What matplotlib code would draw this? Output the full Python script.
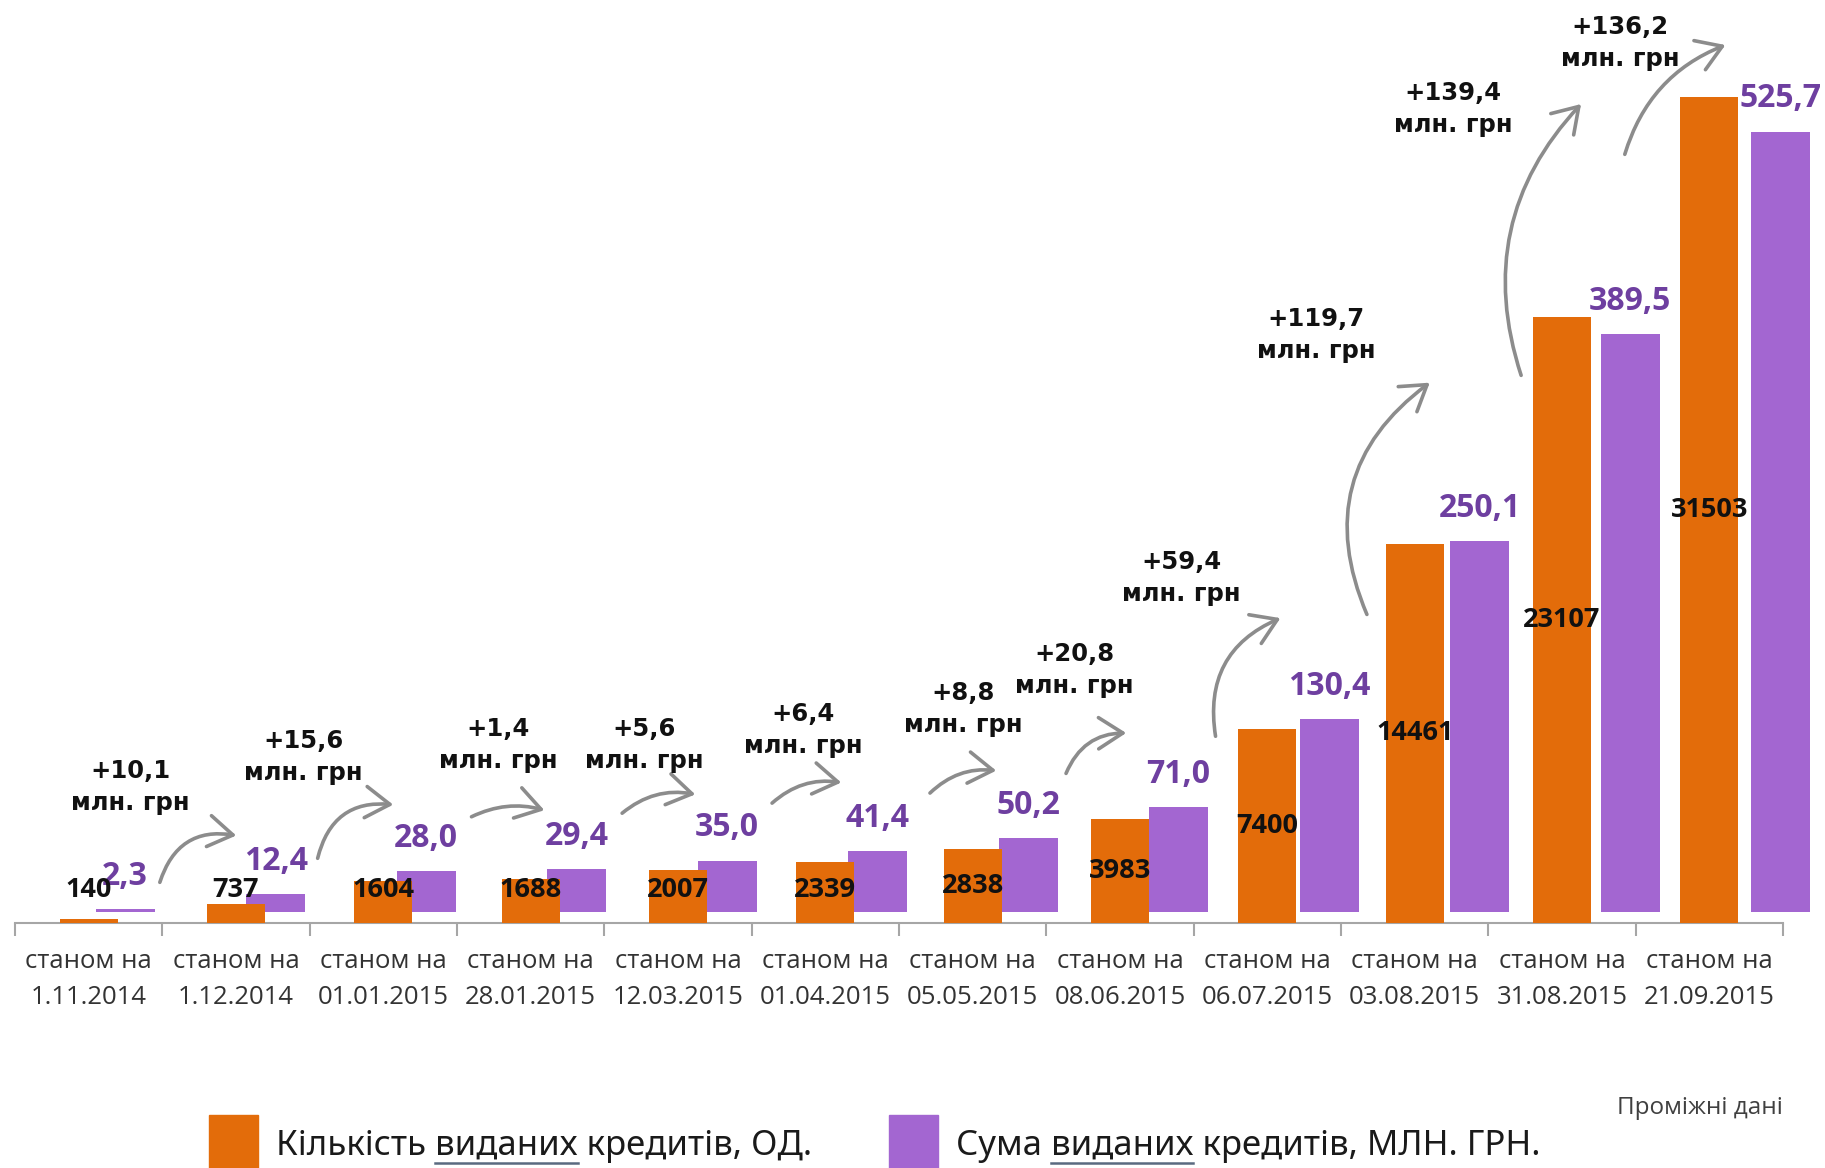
import numpy as np
import matplotlib
matplotlib.use("Agg")
import matplotlib.pyplot as plt
from matplotlib.patches import Rectangle, FancyArrowPatch

# --- data ---
dates = ["1.11.2014", "1.12.2014", "01.01.2015", "28.01.2015", "12.03.2015", "01.04.2015",
         "05.05.2015", "08.06.2015", "06.07.2015", "03.08.2015", "31.08.2015", "21.09.2015"]
counts = [140, 737, 1604, 1688, 2007, 2339, 2838, 3983, 7400, 14461, 23107, 31503]
sums = [2.3, 12.4, 28.0, 29.4, 35.0, 41.4, 50.2, 71.0, 130.4, 250.1, 389.5, 525.7]

legend_parts = [("Кількість ", "виданих", " кредитів, ОД."),
                ("Сума ", "виданих", " кредитів, МЛН. ГРН.")]
note_text = "Проміжні дані"

# layout (figure pixels, 1825 x 1168)
W, H = 1825, 1168
note_xy = [(130, 787), (303, 757), (498, 745), (644, 745), (803, 730), (963, 709),
           (1074, 670), (1181, 578), (1316, 335), (1453, 109), (1620, 43)]
arrow_xy = [((159, 885), (239, 836), -0.45), ((317, 861), (396, 805), -0.45),
            ((469, 818), (547, 811), -0.2), ((620, 815), (698, 795), -0.25),
            ((770, 805), (844, 783), -0.25), ((928, 795), (999, 771), -0.25),
            ((1065, 776), (1129, 733), -0.35), ((1216, 739), (1283, 617), -0.4),
            ((1368, 617), (1432, 381), -0.4), ((1522, 378), (1583, 102), -0.3),
            ((1624, 157), (1728, 44), -0.25)]
legend_x = [(209, 535), (889, 583)]   # key left edge, text width

ORANGE = "#E36C0A"
PURPLE = "#A366D1"
PURPLE_TXT = "#6E3FA0"
GREY = "#8C8C8C"


def fx(x):
    return x / W


def fy(y):
    return 1 - y / H


fig = plt.figure(figsize=(18.25, 11.68), dpi=100)
box = [fx(15), fy(923), 1768 / W, 923 / H]

# sum bars live on their own axes (own x offset and y scale, as in the original)
ax_sum = fig.add_axes(box)
ax_sum.set_xlim(-0.7316, 11.016)
ax_sum.set_ylim(-7.07, 614.3)
ax_sum.axis("off")
xs = np.arange(len(sums))
ax_sum.bar(xs, sums, width=0.392, color=PURPLE, clip_on=False, zorder=2)
for x, v in zip(xs, sums):
    ax_sum.annotate(f"{v:.1f}".replace(".", ","), (x, v), xytext=(0, 23.5),
                    textcoords="offset points", ha="center", va="center",
                    fontsize=23, fontweight="bold", family="Open Sans",
                    color=PURPLE_TXT, annotation_clip=False)

ax = fig.add_axes(box)
ax.patch.set_alpha(0)
ax.set_xlim(-0.5, 11.5)
ax.set_ylim(0, 35200)
xc = np.arange(len(counts))
ax.bar(xc, counts, width=0.394, color=ORANGE, zorder=3)
for x, v in zip(xc, counts):
    ax.text(x, max(v / 2, 1260), str(v), ha="center", va="center", fontsize=19.5,
            fontweight="bold", family="Open Sans", color="#111111", zorder=4)

for s in ["top", "left", "right"]:
    ax.spines[s].set_visible(False)
ax.spines["bottom"].set_color("#A6A6A6")
ax.spines["bottom"].set_linewidth(1.5)
ax.set_yticks([])
ax.set_xticks(xc)
ax.set_xticklabels(["станом на\n" + d for d in dates], fontsize=18.5, family="Open Sans",
                   color="#333333", linespacing=1.55)
ax.tick_params(axis="x", which="major", length=0, pad=19)
ax.set_xticks(np.arange(-0.5, 12, 1), minor=True)
ax.tick_params(axis="x", which="minor", length=9, width=1.5, color="#A6A6A6")

# increments with curved arrows
for (x, y), d in zip(note_xy, np.diff(sums)):
    fig.text(fx(x), fy(y), f"+{d:.1f}".replace(".", ",") + "\nмлн. грн", ha="center",
             va="center", fontsize=17.5, fontweight="bold", family="DejaVu Sans",
             color="#111111", linespacing=1.45)
for (a, b, rad) in arrow_xy:
    arr = FancyArrowPatch((fx(a[0]), fy(a[1])), (fx(b[0]), fy(b[1])),
                          transform=fig.transFigure,
                          connectionstyle=f"arc3,rad={rad}",
                          arrowstyle="->,head_length=0.7,head_width=0.45",
                          mutation_scale=25, lw=2.6, color=GREY)
    fig.patches.append(arr)

# legend drawn by hand, cut by the bottom edge like the original
renderer = fig.canvas.get_renderer()
for (x0, target), parts, col in zip(legend_x, legend_parts, [ORANGE, PURPLE]):
    fig.patches.append(Rectangle((fx(x0), fy(1175)), 49 / W, 60 / H,
                                 transform=fig.transFigure, color=col))
    full = "".join(parts)
    t = fig.text(fx(x0 + 67), fy(1146), full, ha="left", va="center", fontsize=29,
                 family="Noto Sans", fontstretch="condensed", color="#1a1a1a")
    w = t.get_window_extent(renderer).width
    t.set_fontsize(29 * min(1.0, target / w))
    # underline the middle word
    fs = t.get_fontsize()
    ws = []
    for s in [parts[0], parts[0] + parts[1]]:
        tmp = fig.text(0, 0, s.replace(" ", "\u00a0"), fontsize=fs, family="Noto Sans",
                       fontstretch="condensed")
        ws.append(tmp.get_window_extent(renderer).width)
        tmp.remove()
    x_a = x0 + 67 + ws[0]
    x_b = x0 + 67 + ws[1]
    fig.add_artist(plt.Line2D([fx(x_a), fx(x_b)], [fy(1163), fy(1163)],
                              transform=fig.transFigure, color="#5A6A80", lw=1.8))

fig.text(fx(1783), fy(1108), note_text, ha="right", va="center", fontsize=17.5,
         family="Open Sans", color="#404040")

fig.savefig("out.png", dpi=100)
